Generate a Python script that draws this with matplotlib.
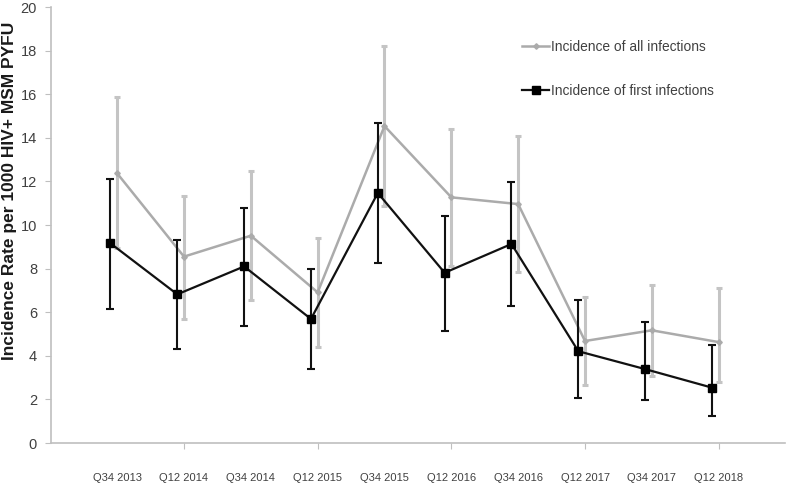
import matplotlib
matplotlib.use("Agg")
import matplotlib.pyplot as plt
import numpy as np

categories = ["Q34 2013", "Q12 2014", "Q34 2014", "Q12 2015", "Q34 2015",
              "Q12 2016", "Q34 2016", "Q12 2017", "Q34 2017", "Q12 2018"]

all_inf = [12.37, 8.55, 9.51, 6.91, 14.54, 11.27, 10.96, 4.68, 5.17, 4.63]
all_hi = [15.86, 11.33, 12.48, 9.39, 18.2, 14.40, 14.08, 6.70, 7.25, 7.13]
all_lo = [8.96, 5.70, 6.56, 4.39, 10.87, 8.12, 7.86, 2.66, 3.07, 2.80]

first_inf = [9.16, 6.82, 8.10, 5.69, 11.47, 7.81, 9.13, 4.21, 3.39, 2.54]
first_hi = [12.10, 9.31, 10.79, 8.00, 14.69, 10.43, 11.97, 6.57, 5.57, 4.51]
first_lo = [6.16, 4.30, 5.35, 3.41, 8.27, 5.15, 6.30, 2.08, 1.96, 1.25]

plt.rcParams['font.family'] = ['Liberation Sans', 'DejaVu Sans']

fig = plt.figure(figsize=(7.88, 4.87), dpi=100)
ax = fig.add_axes([0.0647, 0.0903, 0.9313, 0.8953])

x = np.arange(len(categories))
xg = x.astype(float)
xb = x - 0.1

grey_line = "#ababab"
grey_err = "#c4c4c4"

ag = np.array(all_inf)
ax.errorbar(xg, ag, yerr=[ag - np.array(all_lo), np.array(all_hi) - ag],
            fmt='none', ecolor=grey_err, elinewidth=2.2, capsize=2.5, capthick=2.2, zorder=1)
lg, = ax.plot(xg, ag, color=grey_line, lw=1.8, marker='D', markersize=2.8,
              markerfacecolor=grey_line, markeredgecolor=grey_line, zorder=2,
              label="Incidence of all infections")

ab = np.array(first_inf)
ax.errorbar(xb, ab, yerr=[ab - np.array(first_lo), np.array(first_hi) - ab],
            fmt='none', ecolor='#111111', elinewidth=1.5, capsize=3, capthick=1.5, zorder=3)
lb, = ax.plot(xb, ab, color='#111111', lw=1.6, marker='s', markersize=5.5,
              markerfacecolor='black', markeredgecolor='black', zorder=4,
              label="Incidence of first infections")

ax.set_xlim(-0.99, 9.99)
ax.set_ylim(0, 20)
ax.set_yticks(np.arange(0, 21, 2))
ax.tick_params(axis='y', labelsize=10.5, labelcolor='#404040', color='#bfbfbf',
               length=4, direction='out', pad=6)

ax.set_xticks(x[1::2])
ax.set_xticklabels([])
ax.tick_params(axis='x', color='#bfbfbf', length=4, direction='out')
for xi, lab in zip(x, categories):
    ax.text(xi, -1.6, lab, ha='center', va='center', fontsize=8, color='#404040')

for s in ['top', 'right']:
    ax.spines[s].set_visible(False)
for s in ['left', 'bottom']:
    ax.spines[s].set_color('#bfbfbf')
    ax.spines[s].set_linewidth(1.2)

fig.text(9.5 / 788, 1 - 191 / 487, "Incidence Rate per 1000 HIV+ MSM PYFU",
         rotation=90, ha='center', va='center', fontsize=12.5,
         fontweight='bold', color='#1a1a1a')

leg = ax.legend(handles=[lg, lb], loc='upper left', bbox_to_anchor=(0.634, 0.938),
                frameon=False, fontsize=9.9, handlelength=2.0, handletextpad=0.1,
                labelspacing=2.2, borderaxespad=0)
for t in leg.get_texts():
    t.set_color('#404040')

fig.savefig("out.png", dpi=100)
